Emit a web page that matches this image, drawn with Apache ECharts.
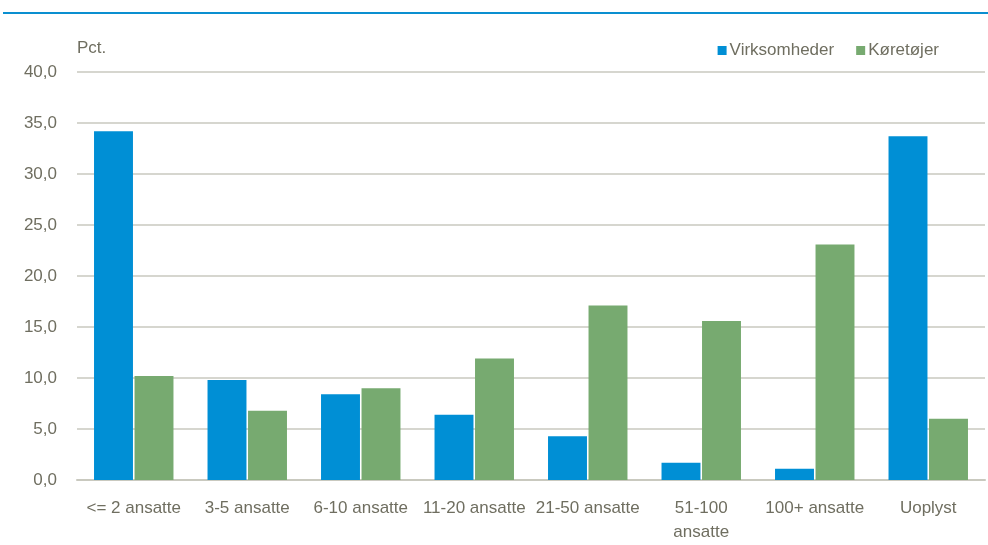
<!DOCTYPE html>
<html>
<head>
<meta charset="utf-8">
<script src="https://cdn.jsdelivr.net/npm/echarts@6/dist/echarts.min.js"></script>
<style>html,body{margin:0;padding:0;background:#fff}#c{width:988px;height:545px}</style>
</head>
<body>
<div id="c"></div>
<script>
const categories = ['<= 2 ansatte', '3-5 ansatte', '6-10 ansatte', '11-20 ansatte', '21-50 ansatte', '51-100\nansatte', '100+ ansatte', 'Uoplyst'];
const virksomheder = [34.2, 9.8, 8.4, 6.4, 4.3, 1.7, 1.1, 33.7];
const koretojer = [10.2, 6.8, 9.0, 11.9, 17.1, 15.6, 23.1, 6.0];
const yTicks = { min: 0, max: 40, interval: 5 };

const textColor = '#6f6e60';
const font = '"Liberation Sans", Arial, sans-serif';
const fs = 17;
const chart = echarts.init(document.getElementById('c'), null, { renderer: 'canvas' });
chart.setOption({
  animation: false,
  backgroundColor: '#ffffff',
  textStyle: { fontFamily: font },
  graphic: [
    { type: 'rect', shape: { x: 3, y: 12, width: 985, height: 2 }, style: { fill: '#0a8fd0' } },
    { type: 'text', left: 77, top: 40, style: { text: 'Pct.', fill: textColor, font: fs + 'px ' + font } }
  ],
  legend: {
    right: 44, top: 37, itemWidth: 9, itemHeight: 9, itemGap: 22,
    icon: 'rect',
    textStyle: { color: textColor, fontSize: fs, fontFamily: font, padding: [0, 0, 0, -2] },
    data: ['Virksomheder', 'Køretøjer']
  },
  grid: { left: 77, right: 3, top: 72, bottom: 65, containLabel: false },
  xAxis: {
    type: 'category', data: categories,
    axisTick: { show: false },
    axisLine: { lineStyle: { color: '#c9c9bf', width: 2 } },
    axisLabel: { color: textColor, fontSize: fs, fontFamily: font, margin: 16, interval: 0, lineHeight: 24 }
  },
  yAxis: {
    type: 'value', min: yTicks.min, max: yTicks.max, interval: yTicks.interval,
    axisLabel: { color: textColor, fontSize: fs, fontFamily: font, margin: 20,
      formatter: v => v.toFixed(1).replace('.', ',') },
    splitLine: { lineStyle: { color: '#c9c9bf', width: 1.5 } },
    axisLine: { show: false }, axisTick: { show: false }
  },
  series: [
    { name: 'Virksomheder', type: 'bar', data: virksomheder, barGap: '4%', barCategoryGap: '30%',
      itemStyle: { color: '#008fd5' } },
    { name: 'Køretøjer', type: 'bar', data: koretojer,
      itemStyle: { color: '#77aa70' } }
  ]
});
</script>
</body>
</html>
